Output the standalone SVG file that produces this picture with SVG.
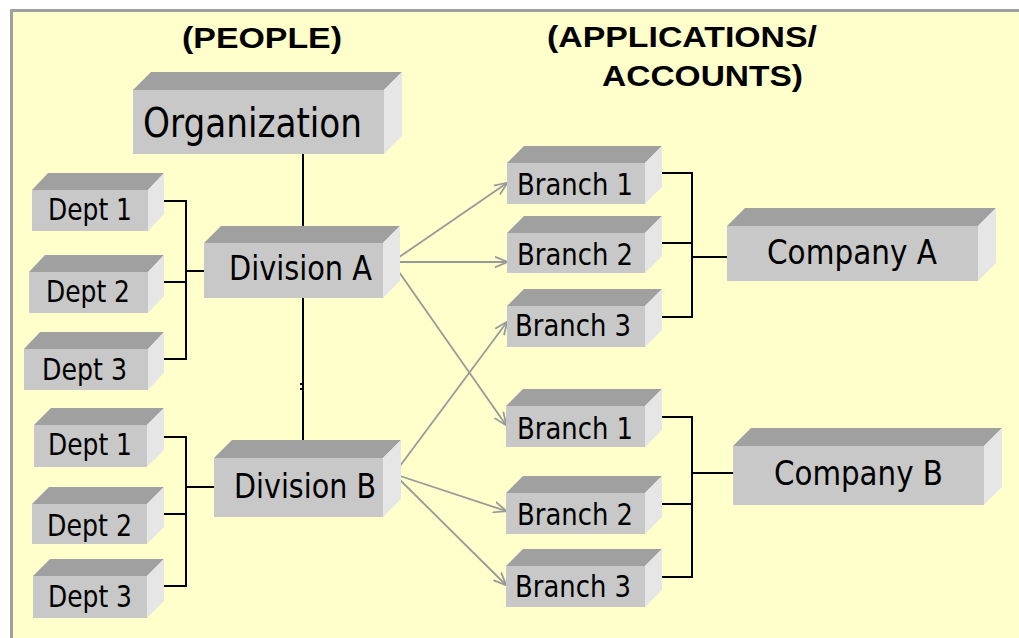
<svg xmlns="http://www.w3.org/2000/svg" width="1019" height="638" viewBox="0 0 1019 638">
<defs>
<style>
.top{fill:#a0a0a0}
.side{fill:#e6e6e6}
.front{fill:#c8c8c8}
.lbl{font-family:"DejaVu Sans","Liberation Sans",sans-serif;fill:#000}
.ttl{font-family:"Liberation Sans",Arial,sans-serif;font-weight:bold;font-size:29px;fill:#000}
.blk{fill:none;stroke:#000;stroke-width:2}
.arr{fill:none;stroke:#999999;stroke-width:1.8;marker-end:url(#ah)}
</style>
<marker id="ah" viewBox="0 0 13 13" refX="12.5" refY="6.5" markerWidth="13" markerHeight="13" markerUnits="userSpaceOnUse" orient="auto">
<path d="M0,1 L13,6.5 L0,12" fill="none" stroke="#999999" stroke-width="1.8"/>
</marker>
</defs>
<rect x="0" y="0" width="1019" height="638" fill="#ffffff"/>
<g id="frame">
<rect x="11" y="10" width="1008" height="628" fill="#ffffcc"/>
<path d="M11.5,638 V10.5 H1019" fill="none" stroke="#a0a0a0" stroke-width="3"/>
</g>

<g id="titles">
<text class="ttl" x="182" y="48" textLength="160" lengthAdjust="spacingAndGlyphs">(PEOPLE)</text>
<text class="ttl" x="547" y="47" textLength="270" lengthAdjust="spacingAndGlyphs">(APPLICATIONS/</text>
<text class="ttl" x="602" y="86" textLength="201" lengthAdjust="spacingAndGlyphs">ACCOUNTS)</text>
</g>

<g id="connectors">
<path class="blk" d="M303,154 V234 M303,298 V449"/>
<path class="blk" d="M155,201 H186 V359 H155 M155,282 H186 M186,271 H204"/>
<path class="blk" d="M155,437 H186 V586 H155 M155,514 H186 M186,487 H214"/>
<path class="blk" d="M653,173 H692 V317 H653 M653,243 H692 M692,257 H727"/>
<path class="blk" d="M653,417 H692 V577 H653 M653,504 H692 M692,473 H733"/>
<rect x="300" y="383" width="2" height="2" fill="#000"/>
<rect x="300" y="388" width="2" height="2" fill="#000"/>
<path class="arr" d="M392,262 L507,183"/>
<path class="arr" d="M392,262 L507,262"/>
<path class="arr" d="M392,262 L506,425"/>
<path class="arr" d="M394,474 L507,322"/>
<path class="arr" d="M394,474 L506,511"/>
<path class="arr" d="M394,474 L506,585"/>
</g>

<g id="organization">
<polygon class="top" points="133,90 151,72 402,72 384,90"/>
<polygon class="side" points="384,90 402,72 402,136 384,154"/>
<rect class="front" x="133" y="90" width="251" height="64"/>
<text class="lbl" x="143" y="137" font-size="41" textLength="219" lengthAdjust="spacingAndGlyphs">Organization</text>
</g>

<g id="dept1a">
<polygon class="top" points="32,190 48,173 164,173 148,190"/>
<polygon class="side" points="148,190 164,173 164,214 148,231"/>
<rect class="front" x="32" y="190" width="116" height="41"/>
<text class="lbl" x="48" y="220" font-size="31" textLength="84" lengthAdjust="spacingAndGlyphs">Dept 1</text>
</g>
<g id="dept2a">
<polygon class="top" points="29,272 45,255 164,255 148,272"/>
<polygon class="side" points="148,272 164,255 164,296 148,313"/>
<rect class="front" x="29" y="272" width="119" height="41"/>
<text class="lbl" x="46" y="302" font-size="31" textLength="84" lengthAdjust="spacingAndGlyphs">Dept 2</text>
</g>
<g id="dept3a">
<polygon class="top" points="24,349 40,332 164,332 148,349"/>
<polygon class="side" points="148,349 164,332 164,373 148,390"/>
<rect class="front" x="24" y="349" width="124" height="41"/>
<text class="lbl" x="42" y="380" font-size="31" textLength="85" lengthAdjust="spacingAndGlyphs">Dept 3</text>
</g>
<g id="dept1b">
<polygon class="top" points="34,425 51,408 164,408 147,425"/>
<polygon class="side" points="147,425 164,408 164,450 147,467"/>
<rect class="front" x="34" y="425" width="113" height="42"/>
<text class="lbl" x="48" y="455" font-size="31" textLength="84" lengthAdjust="spacingAndGlyphs">Dept 1</text>
</g>
<g id="dept2b">
<polygon class="top" points="32,504 49,487 164,487 147,504"/>
<polygon class="side" points="147,504 164,487 164,527 147,544"/>
<rect class="front" x="32" y="504" width="115" height="40"/>
<text class="lbl" x="47" y="536" font-size="31" textLength="85" lengthAdjust="spacingAndGlyphs">Dept 2</text>
</g>
<g id="dept3b">
<polygon class="top" points="33,576 50,559 164,559 147,576"/>
<polygon class="side" points="147,576 164,559 164,601 147,618"/>
<rect class="front" x="33" y="576" width="114" height="42"/>
<text class="lbl" x="48" y="607" font-size="31" textLength="84" lengthAdjust="spacingAndGlyphs">Dept 3</text>
</g>

<g id="divisionA">
<polygon class="top" points="204,243 221,226 400,226 383,243"/>
<polygon class="side" points="383,243 400,226 400,281 383,298"/>
<rect class="front" x="204" y="243" width="179" height="55"/>
<text class="lbl" x="229" y="280" font-size="34" textLength="143" lengthAdjust="spacingAndGlyphs">Division A</text>
</g>
<g id="divisionB">
<polygon class="top" points="214,458 232,440 401,440 383,458"/>
<polygon class="side" points="383,458 401,440 401,499 383,517"/>
<rect class="front" x="214" y="458" width="169" height="59"/>
<text class="lbl" x="234" y="498" font-size="34" textLength="142" lengthAdjust="spacingAndGlyphs">Division B</text>
</g>

<g id="branch1A">
<polygon class="top" points="507,163 524,146 662,146 645,163"/>
<polygon class="side" points="645,163 662,146 662,187 645,204"/>
<rect class="front" x="507" y="163" width="138" height="41"/>
<text class="lbl" x="517" y="195" font-size="31" textLength="116" lengthAdjust="spacingAndGlyphs">Branch 1</text>
</g>
<g id="branch2A">
<polygon class="top" points="507,233 524,216 662,216 645,233"/>
<polygon class="side" points="645,233 662,216 662,256 645,273"/>
<rect class="front" x="507" y="233" width="138" height="40"/>
<text class="lbl" x="517" y="265" font-size="31" textLength="116" lengthAdjust="spacingAndGlyphs">Branch 2</text>
</g>
<g id="branch3A">
<polygon class="top" points="507,306 524,289 662,289 645,306"/>
<polygon class="side" points="645,306 662,289 662,330 645,347"/>
<rect class="front" x="507" y="306" width="138" height="41"/>
<text class="lbl" x="515" y="336" font-size="31" textLength="116" lengthAdjust="spacingAndGlyphs">Branch 3</text>
</g>
<g id="branch1B">
<polygon class="top" points="506,406 523,389 662,389 645,406"/>
<polygon class="side" points="645,406 662,389 662,430 645,447"/>
<rect class="front" x="506" y="406" width="139" height="41"/>
<text class="lbl" x="517" y="439" font-size="31" textLength="116" lengthAdjust="spacingAndGlyphs">Branch 1</text>
</g>
<g id="branch2B">
<polygon class="top" points="506,493 523,476 662,476 645,493"/>
<polygon class="side" points="645,493 662,476 662,517 645,534"/>
<rect class="front" x="506" y="493" width="139" height="41"/>
<text class="lbl" x="517" y="525" font-size="31" textLength="116" lengthAdjust="spacingAndGlyphs">Branch 2</text>
</g>
<g id="branch3B">
<polygon class="top" points="506,566 523,549 662,549 645,566"/>
<polygon class="side" points="645,566 662,549 662,590 645,607"/>
<rect class="front" x="506" y="566" width="139" height="41"/>
<text class="lbl" x="515" y="597" font-size="31" textLength="116" lengthAdjust="spacingAndGlyphs">Branch 3</text>
</g>

<g id="companyA">
<polygon class="top" points="727,226 745,208 996,208 978,226"/>
<polygon class="side" points="978,226 996,208 996,263 978,281"/>
<rect class="front" x="727" y="226" width="251" height="55"/>
<text class="lbl" x="767" y="264" font-size="34" textLength="170" lengthAdjust="spacingAndGlyphs">Company A</text>
</g>
<g id="companyB">
<polygon class="top" points="733,446 751,428 1002,428 984,446"/>
<polygon class="side" points="984,446 1002,428 1002,487 984,505"/>
<rect class="front" x="733" y="446" width="251" height="59"/>
<text class="lbl" x="774" y="485" font-size="34" textLength="169" lengthAdjust="spacingAndGlyphs">Company B</text>
</g>
</svg>
